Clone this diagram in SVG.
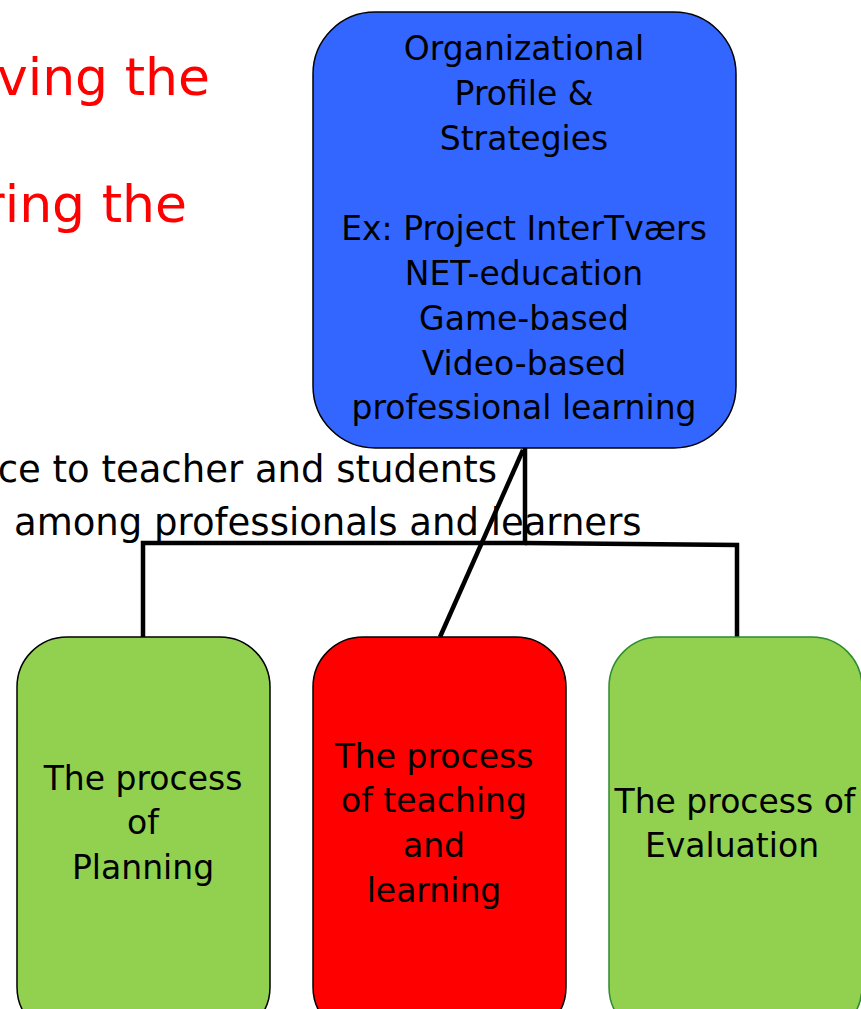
<svg xmlns="http://www.w3.org/2000/svg" width="861" height="1009" viewBox="0 0 861 1009">
<style>
text{font-family:"DejaVu Sans","Liberation Sans",sans-serif;fill:#000}
.red{fill:#FF0000;font-size:52px}
.lbl{font-size:37px}
.box{font-size:33px;text-anchor:middle}
.conn{stroke:#000;stroke-width:4.5;fill:none}
</style>
<rect width="861" height="1009" fill="#fff"/>
<g id="title-text">
<text class="red" x="210" y="95" text-anchor="end">ving the</text>
<text class="red" x="187" y="222" text-anchor="end">ring the</text>
</g>
<g id="side-labels">
<text class="lbl" x="497" y="482" text-anchor="end">ce to teacher and students</text>
<text class="lbl" x="14" y="535">among professionals and learners</text>
</g>
<g id="connectors">
<polyline class="conn" points="143,637 143,543 525,543 525,448"/>
<polyline class="conn" points="525,543 737,545 737,637"/>
<line class="conn" x1="523" y1="450" x2="440" y2="637"/>
</g>
<g id="node-org">
<rect x="313" y="12" width="423" height="436" rx="62" fill="#3366FF" stroke="#000" stroke-width="1.5"/>
<text class="box" x="524"><tspan x="524" y="60">Organizational</tspan><tspan x="524" y="105">Profile &amp;</tspan><tspan x="524" y="150">Strategies</tspan><tspan x="524" y="240">Ex: Project InterTværs</tspan><tspan x="524" y="285">NET-education</tspan><tspan x="524" y="330">Game-based</tspan><tspan x="524" y="375">Video-based</tspan><tspan x="524" y="419">professional learning</tspan></text>
</g>
<g id="node-planning">
<rect x="17" y="637" width="253" height="400" rx="50" fill="#92D050" stroke="#000" stroke-width="1.5"/>
<text class="box"><tspan x="143" y="790">The process</tspan><tspan x="143" y="834">of</tspan><tspan x="143" y="879">Planning</tspan></text>
</g>
<g id="node-teaching">
<rect x="313" y="637" width="253" height="400" rx="50" fill="#FF0000" stroke="#000" stroke-width="1.5"/>
<text class="box"><tspan x="434" y="768">The process</tspan><tspan x="434" y="812">of teaching</tspan><tspan x="434" y="857">and</tspan><tspan x="434" y="902">learning</tspan></text>
</g>
<g id="node-evaluation">
<rect x="609" y="637" width="253" height="400" rx="50" fill="#92D050" stroke="#2E8B2E" stroke-width="1.5"/>
<text class="box"><tspan x="735" y="813">The process of</tspan><tspan x="732" y="857">Evaluation</tspan></text>
</g>
</svg>
